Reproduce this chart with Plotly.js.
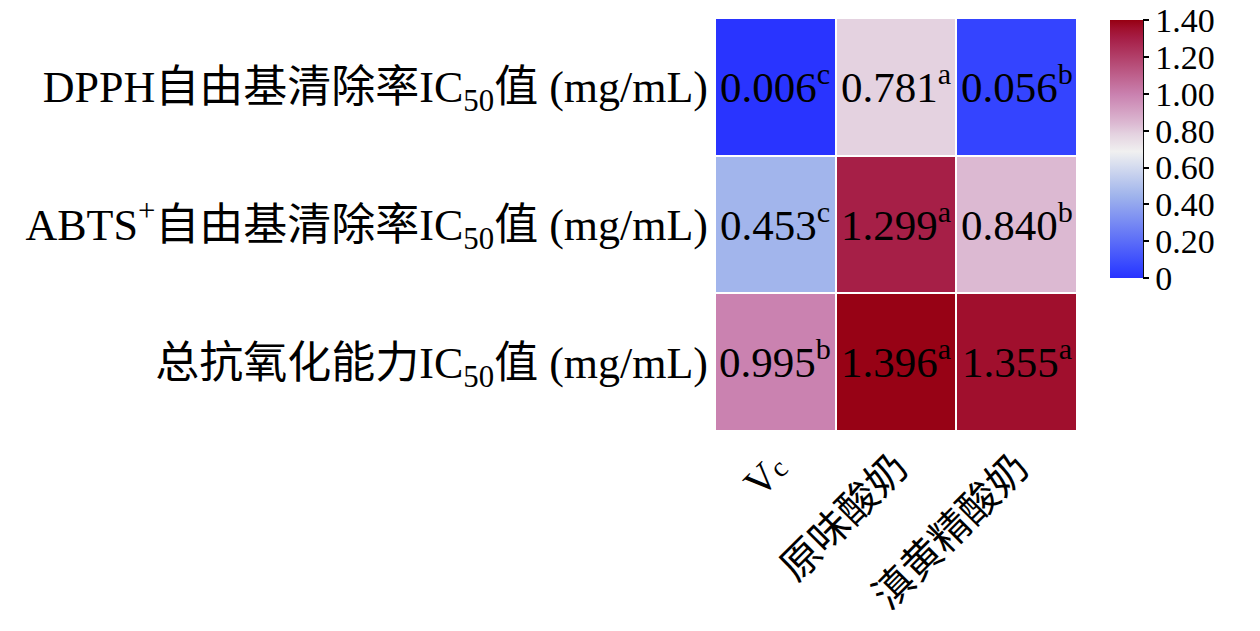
<!DOCTYPE html>
<html>
<head>
<meta charset="utf-8">
<script src="https://cdn.plot.ly/plotly-3.0.1.min.js"></script>
<style>html,body{margin:0;padding:0;background:#fff;}#chart{width:1260px;height:631px;}</style>
</head>
<body>
<div id="chart"></div>
<script>
// Data
const samples = ['V<span style="font-size:28px">c</span>', '原味酸奶', '滇黄精酸奶'];
const indicators = [
  'DPPH自由基清除率IC<sub>50</sub>值 (mg/mL)',
  'ABTS<sup>+</sup>自由基清除率IC<sub>50</sub>值 (mg/mL)',
  '总抗氧化能力IC<sub>50</sub>值 (mg/mL)'
];
const dpphValues = [0.006, 0.781, 0.056];
const abtsValues = [0.453, 1.299, 0.840];
const taocValues = [0.995, 1.396, 1.355];
const dpphLetters = ['c', 'a', 'b'];
const abtsLetters = ['c', 'a', 'b'];
const taocLetters = ['b', 'a', 'a'];
const cbTickVals = [0, 0.2, 0.4, 0.6, 0.8, 1.0, 1.2, 1.4];
const cbTickText = ['0', '0.20', '0.40', '0.60', '0.80', '1.00', '1.20', '1.40'];

const z = [dpphValues, abtsValues, taocValues];
const letters = [dpphLetters, abtsLetters, taocLetters];
const text = z.map((row, i) => row.map((v, j) => v.toFixed(3) + '<sup>' + letters[i][j] + '</sup>'));

const serif = 'Liberation Serif, Times New Roman, Noto Sans CJK SC, serif';

const colorscale = [
  [0, 'rgb(40,50,255)'],
  [0.04, 'rgb(52,68,255)'],
  [0.32, 'rgb(160,180,236)'],
  [0.49, 'rgb(240,240,240)'],
  [0.558, 'rgb(228,210,224)'],
  [0.6, 'rgb(220,185,210)'],
  [0.71, 'rgb(202,130,176)'],
  [0.93, 'rgb(166,30,70)'],
  [0.968, 'rgb(160,15,45)'],
  [1, 'rgb(150,0,18)']
];

const trace = {
  type: 'heatmap',
  x: samples,
  y: indicators,
  z: z,
  text: text,
  texttemplate: '%{text}',
  textfont: {family: serif, size: 43, color: '#000'},
  zmin: 0,
  zmax: 1.4005,
  colorscale: colorscale,
  xgap: 2,
  ygap: 2,
  hoverinfo: 'skip',
  colorbar: {
    x: 1.091, xanchor: 'left',
    y: 0.995, yanchor: 'top',
    len: 258, lenmode: 'pixels',
    thickness: 33,
    outlinewidth: 0,
    ticks: 'outside', ticklen: 6, tickwidth: 2, tickcolor: '#000',
    tickvals: cbTickVals, ticktext: cbTickText,
    tickfont: {family: serif, size: 34, color: '#000'},
    xpad: 0, ypad: 0
  }
};

const layout = {
  width: 1260, height: 631,
  margin: {l: 715, r: 183, t: 18, b: 200},
  paper_bgcolor: '#fff', plot_bgcolor: '#fff',
  font: {family: serif, color: '#000'},
  xaxis: {
    tickangle: -45, tickfont: {family: serif, size: 40, color: '#000'},
    showgrid: false, zeroline: false, showline: false, ticks: '', ticklabelstandoff: 4
  },
  yaxis: {
    autorange: 'reversed', tickfont: {family: serif, size: 44, color: '#000'},
    showgrid: false, zeroline: false, showline: false, ticks: '', ticklabelstandoff: 6
  },
  shapes: [{
    type: 'line', xref: 'paper', yref: 'paper',
    x0: 1.091 + 33/362, x1: 1.091 + 33/362, y0: 0.995, y1: 0.995 - 258/413,
    line: {color: '#000', width: 2}
  }]
};

Plotly.newPlot('chart', [trace], layout, {displayModeBar: false, staticPlot: true});
</script>
</body>
</html>
